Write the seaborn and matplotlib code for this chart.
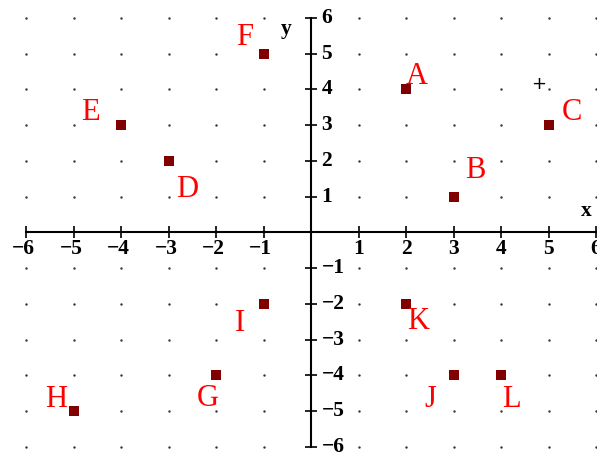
import matplotlib
matplotlib.use("Agg")
import matplotlib.pyplot as plt
import seaborn as sns
import numpy as np
import pandas as pd

# Data
names = ["A", "B", "C", "D", "E", "F", "G", "H", "I", "J", "K", "L"]
xs = [2, 3, 5, -3, -4, -1, -2, -5, -1, 3, 2, 4]
ys = [4, 1, 3, 2, 3, 5, -4, -5, -2, -4, -2, -4]
ticks = [-6, -5, -4, -3, -2, -1, 1, 2, 3, 4, 5, 6]

# label offsets (data units) relative to each point
label_dx = [0.22, 0.46, 0.49, 0.40, -0.64, -0.41, -0.17, -0.36, -0.50, -0.49, 0.26, 0.22]
label_dy = [0.37, 0.72, 0.35, -0.79, 0.35, 0.46, -0.65, 0.32, -0.56, -0.68, -0.50, -0.68]

sns.set_theme(style="white")
plt.rcParams['font.family'] = ['DejaVu Sans']

fig = plt.figure(figsize=(5.97, 4.53), dpi=100)
ax = fig.add_axes([0, 0, 1, 1])
ax.set_xlim(-6.55, 6.02)
ax.set_ylim(-6.17, 6.50)

# grid dots
gx, gy = np.meshgrid(np.arange(-6, 7), np.arange(-6, 7))
grid = pd.DataFrame({"x": gx.ravel(), "y": gy.ravel()})
grid = grid[(grid.x != 0) & (grid.y != 0)]
sns.scatterplot(data=grid, x="x", y="y", ax=ax, color="#333333", s=3,
                linewidth=0, marker="o", legend=False, zorder=1, clip_on=False)

# axes through origin
for s in ["top", "right"]:
    ax.spines[s].set_visible(False)
ax.spines["left"].set_position(("data", 0))
ax.spines["bottom"].set_position(("data", 0))
ax.spines["left"].set_bounds(-6, 6)
ax.spines["bottom"].set_bounds(-6, 6)
for s in ["left", "bottom"]:
    ax.spines[s].set_color("black")
    ax.spines[s].set_linewidth(1.5)
    ax.spines[s].set_zorder(2)
ax.set_xticks(ticks)
ax.set_yticks(ticks)
ax.tick_params(axis="both", direction="inout", length=8, width=1.2, color="black",
               labelbottom=False, labelleft=False, bottom=True, left=True)
ax.set_xlabel("")
ax.set_ylabel("")

tfont = dict(family="Liberation Serif", weight="bold", fontsize=15.5, color="black")
for t in ticks:
    lab = str(t).replace("-", "\u2212")
    ax.annotate(lab, (t, 0), xytext=(-2 if t < 0 else 0, -5), textcoords="offset points",
                ha="center", va="top", **tfont)
    ax.annotate(lab, (0, t), xytext=(7.5, 0), textcoords="offset points",
                ha="left", va="center", **tfont)

ax.text(5.8, 0.6, "x", ha="center", va="center", **tfont)
ax.text(-0.52, 5.68, "y", ha="center", va="center", **tfont)
ax.text(4.8, 4.15, "+", ha="center", va="center", family="DejaVu Sans",
        fontsize=13, color="black")

# points
pts = pd.DataFrame({"name": names, "x": xs, "y": ys})
sns.scatterplot(data=pts, x="x", y="y", ax=ax, marker="s", s=62, color="#800000",
                linewidth=0, legend=False, zorder=3)
for n, x, y, dx, dy in zip(names, xs, ys, label_dx, label_dy):
    ax.text(x + dx, y + dy, n, ha="center", va="center", family="Liberation Serif",
            fontsize=22, color="#ff0000", zorder=4)

fig.savefig("out.png", dpi=100)
